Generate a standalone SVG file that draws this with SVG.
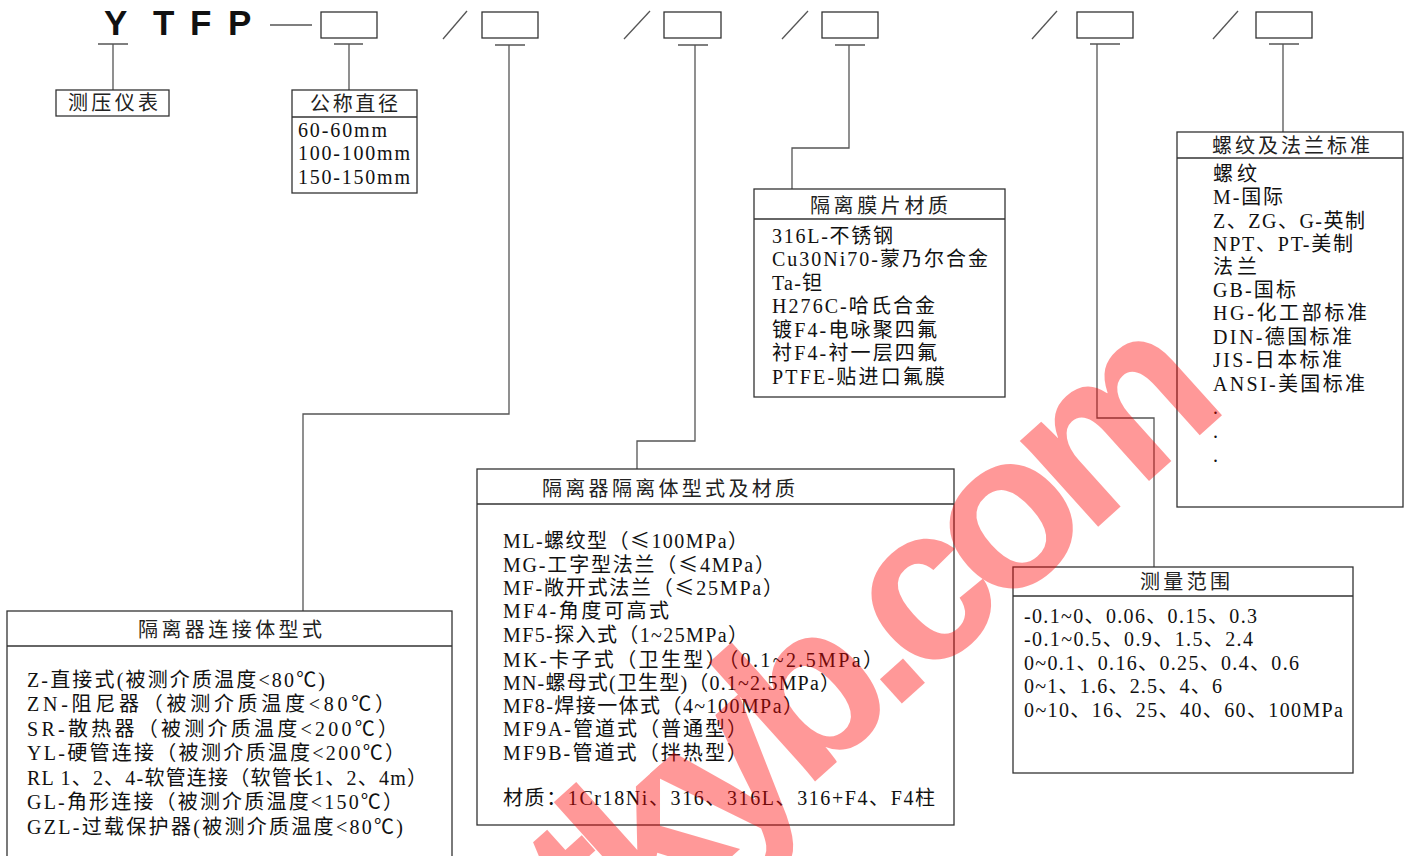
<svg xmlns="http://www.w3.org/2000/svg" width="1409" height="856" viewBox="0 0 1409 856">
<style>
.box{fill:none;stroke:#333;stroke-width:1.3}
.ln{fill:none;stroke:#555;stroke-width:1.3}
.hd{font-family:"Liberation Serif","Noto Sans CJK SC",serif;font-size:20px;fill:#222}
.it{font-family:"Liberation Serif","Noto Sans CJK SC",serif;font-size:20px;fill:#111}
.cj{font-family:"Noto Sans CJK SC",sans-serif}
.code{font-family:"Liberation Sans",Arial,sans-serif;font-weight:bold;font-size:35px;fill:#111}
.wm{font-family:"Liberation Sans",Arial,sans-serif;font-weight:bold;font-size:220px;letter-spacing:-18px;fill:#ff0000;opacity:0.4}
</style>
<rect width="1409" height="856" fill="#fff"/>
<g id="code">
<text class="code"><tspan x="104" y="35">Y</tspan><tspan x="153" y="35">T</tspan><tspan x="190" y="35">F</tspan><tspan x="228" y="35">P</tspan></text>
<line class="ln" x1="270" y1="25" x2="312" y2="25"/>
<rect class="box" x="321" y="12" width="56" height="26"/>
<rect class="box" x="482" y="12" width="56" height="26"/>
<rect class="box" x="664" y="12" width="57" height="26"/>
<rect class="box" x="822" y="12" width="56" height="26"/>
<rect class="box" x="1077" y="12" width="56" height="26"/>
<rect class="box" x="1256" y="12" width="56" height="26"/>
<line class="ln" x1="443" y1="39" x2="467" y2="11"/>
<line class="ln" x1="624" y1="39" x2="650" y2="11"/>
<line class="ln" x1="782" y1="39" x2="808" y2="11"/>
<line class="ln" x1="1032" y1="39" x2="1057" y2="11"/>
<line class="ln" x1="1213" y1="39" x2="1238" y2="11"/>
</g>
<g id="connectors">
<path class="ln" d="M98,44H128M113,44V90"/>
<path class="ln" d="M334,44H363M349,44V90"/>
<path class="ln" d="M495,45H525M509,45V414H303V611"/>
<path class="ln" d="M678,45H708M695,45V441H637V469"/>
<path class="ln" d="M835,45H865M849,45V148H792V189"/>
<path class="ln" d="M1090,44H1120M1097,44V418H1154V567"/>
<path class="ln" d="M1269,44H1299M1283,44V132"/>
</g>
<g id="node-gauge">
<rect class="box" x="56" y="90" width="113" height="26"/>
<text class="hd" x="68" y="110" textLength="90" lengthAdjust="spacing">测压仪表</text>
</g>
<g id="node-diameter">
<rect class="box" x="292" y="90" width="125" height="103"/>
<line class="box" x1="292" y1="117" x2="417" y2="117"/>
<text class="hd" x="310" y="111" textLength="88" lengthAdjust="spacing">公称直径</text>
<text class="it" x="298" y="137" textLength="89" lengthAdjust="spacing">60-60mm</text>
<text class="it" x="298" y="160" textLength="112" lengthAdjust="spacing">100-100mm</text>
<text class="it" x="298" y="184" textLength="112" lengthAdjust="spacing">150-150mm</text>
</g>
<g id="node-membrane">
<rect class="box" x="754" y="189" width="251" height="208"/>
<line class="box" x1="754" y1="219" x2="1005" y2="219"/>
<text class="hd" x="810" y="213" textLength="138" lengthAdjust="spacing">隔离膜片材质</text>
<text class="it" x="772" y="243" textLength="121" lengthAdjust="spacing">316L-不锈钢</text>
<text class="it" x="772" y="266" textLength="216" lengthAdjust="spacing">Cu30Ni70-蒙乃尔合金</text>
<text class="it" x="772" y="290" textLength="50" lengthAdjust="spacing">Ta-钽</text>
<text class="it" x="772" y="313" textLength="163" lengthAdjust="spacing">H276C-哈氏合金</text>
<text class="it" x="772" y="337" textLength="165" lengthAdjust="spacing">镀F4-电咏聚四氟</text>
<text class="it" x="772" y="360" textLength="165" lengthAdjust="spacing">衬F4-衬一层四氟</text>
<text class="it" x="772" y="384" textLength="173" lengthAdjust="spacing">PTFE-贴进口氟膜</text>
</g>
<g id="node-thread">
<rect class="box" x="1177" y="132" width="226" height="375"/>
<line class="box" x1="1177" y1="158" x2="1403" y2="158"/>
<text class="hd" x="1212" y="153" textLength="158" lengthAdjust="spacing">螺纹及法兰标准</text>
<text class="it" x="1213" y="181" textLength="44" lengthAdjust="spacing">螺纹</text>
<text class="it" x="1213" y="204" textLength="70" lengthAdjust="spacing">M-国际</text>
<text class="it" x="1213" y="228" textLength="152" lengthAdjust="spacing">Z、ZG、G-英制</text>
<text class="it" x="1213" y="251" textLength="140" lengthAdjust="spacing">NPT、PT-美制</text>
<text class="it" x="1213" y="274" textLength="44" lengthAdjust="spacing">法兰</text>
<text class="it" x="1213" y="297" textLength="83" lengthAdjust="spacing">GB-国标</text>
<text class="it" x="1213" y="320" textLength="154" lengthAdjust="spacing">HG-化工部标准</text>
<text class="it" x="1213" y="344" textLength="139" lengthAdjust="spacing">DIN-德国标准</text>
<text class="it" x="1213" y="367" textLength="129" lengthAdjust="spacing">JIS-日本标准</text>
<text class="it" x="1213" y="391" textLength="152" lengthAdjust="spacing">ANSI-美国标准</text>
<text class="it" x="1213" y="414">.</text>
<text class="it" x="1213" y="438">.</text>
<text class="it" x="1213" y="462">.</text>
</g>
<g id="node-body">
<rect class="box" x="477" y="469" width="477" height="356"/>
<line class="box" x1="477" y1="504" x2="954" y2="504"/>
<text class="hd" x="542" y="496" textLength="253" lengthAdjust="spacing">隔离器隔离体型式及材质</text>
<text class="it" x="503" y="548" textLength="245" lengthAdjust="spacing">ML-螺纹型（<tspan class="cj">≤</tspan>100MPa）</text>
<text class="it" x="503" y="572" textLength="272" lengthAdjust="spacing">MG-工字型法兰（<tspan class="cj">≤</tspan>4MPa）</text>
<text class="it" x="503" y="595" textLength="280" lengthAdjust="spacing">MF-敞开式法兰（<tspan class="cj">≤</tspan>25MPa）</text>
<text class="it" x="503" y="618" textLength="166" lengthAdjust="spacing">MF4-角度可高式</text>
<text class="it" x="503" y="642" textLength="245" lengthAdjust="spacing">MF5-探入式（1~25MPa）</text>
<text class="it" x="503" y="667" textLength="380" lengthAdjust="spacing">MK-卡子式（卫生型）（0.1~2.5MPa）</text>
<text class="it" x="503" y="690" textLength="337" lengthAdjust="spacing">MN-螺母式(卫生型)（0.1~2.5MPa）</text>
<text class="it" x="503" y="713" textLength="300" lengthAdjust="spacing">MF8-焊接一体式（4~100MPa）</text>
<text class="it" x="503" y="736" textLength="244" lengthAdjust="spacing">MF9A-管道式（普通型）</text>
<text class="it" x="503" y="760" textLength="244" lengthAdjust="spacing">MF9B-管道式（拌热型）</text>
<text class="it" x="503" y="805" textLength="432" lengthAdjust="spacing">材质：1Cr18Ni、316、316L、316+F4、F4柱</text>
</g>
<g id="node-connection">
<rect class="box" x="7" y="611" width="445" height="260"/>
<line class="box" x1="7" y1="646" x2="452" y2="646"/>
<text class="hd" x="138" y="637" textLength="184" lengthAdjust="spacing">隔离器连接体型式</text>
<text class="it" x="27" y="687" textLength="298" lengthAdjust="spacing">Z-直接式(被测介质温度&lt;80℃)</text>
<text class="it" x="27" y="711" textLength="368" lengthAdjust="spacing">ZN-阻尼器（被测介质温度&lt;80℃）</text>
<text class="it" x="27" y="736" textLength="371" lengthAdjust="spacing">SR-散热器（被测介质温度&lt;200℃）</text>
<text class="it" x="27" y="760" textLength="378" lengthAdjust="spacing">YL-硬管连接（被测介质温度&lt;200℃）</text>
<text class="it" x="27" y="785" textLength="400" lengthAdjust="spacing">RL 1、2、4-软管连接（软管长1、2、4m）</text>
<text class="it" x="27" y="809" textLength="376" lengthAdjust="spacing">GL-角形连接（被测介质温度&lt;150℃）</text>
<text class="it" x="27" y="834" textLength="376" lengthAdjust="spacing">GZL-过载保护器(被测介质温度&lt;80℃)</text>
</g>
<g id="node-range">
<rect class="box" x="1013" y="567" width="340" height="206"/>
<line class="box" x1="1013" y1="596" x2="1353" y2="596"/>
<text class="hd" x="1140" y="589" textLength="90" lengthAdjust="spacing">测量范围</text>
<text class="it" x="1024" y="623" textLength="233" lengthAdjust="spacing">-0.1~0、0.06、0.15、0.3</text>
<text class="it" x="1024" y="646" textLength="229" lengthAdjust="spacing">-0.1~0.5、0.9、1.5、2.4</text>
<text class="it" x="1024" y="670" textLength="275" lengthAdjust="spacing">0~0.1、0.16、0.25、0.4、0.6</text>
<text class="it" x="1024" y="693" textLength="198" lengthAdjust="spacing">0~1、1.6、2.5、4、6</text>
<text class="it" x="1024" y="717" textLength="319" lengthAdjust="spacing">0~10、16、25、40、60、100MPa</text>
</g>
<g id="watermark">
<text class="wm" transform="translate(608,968) rotate(-42)">tkyb.com</text>
</g>
</svg>
